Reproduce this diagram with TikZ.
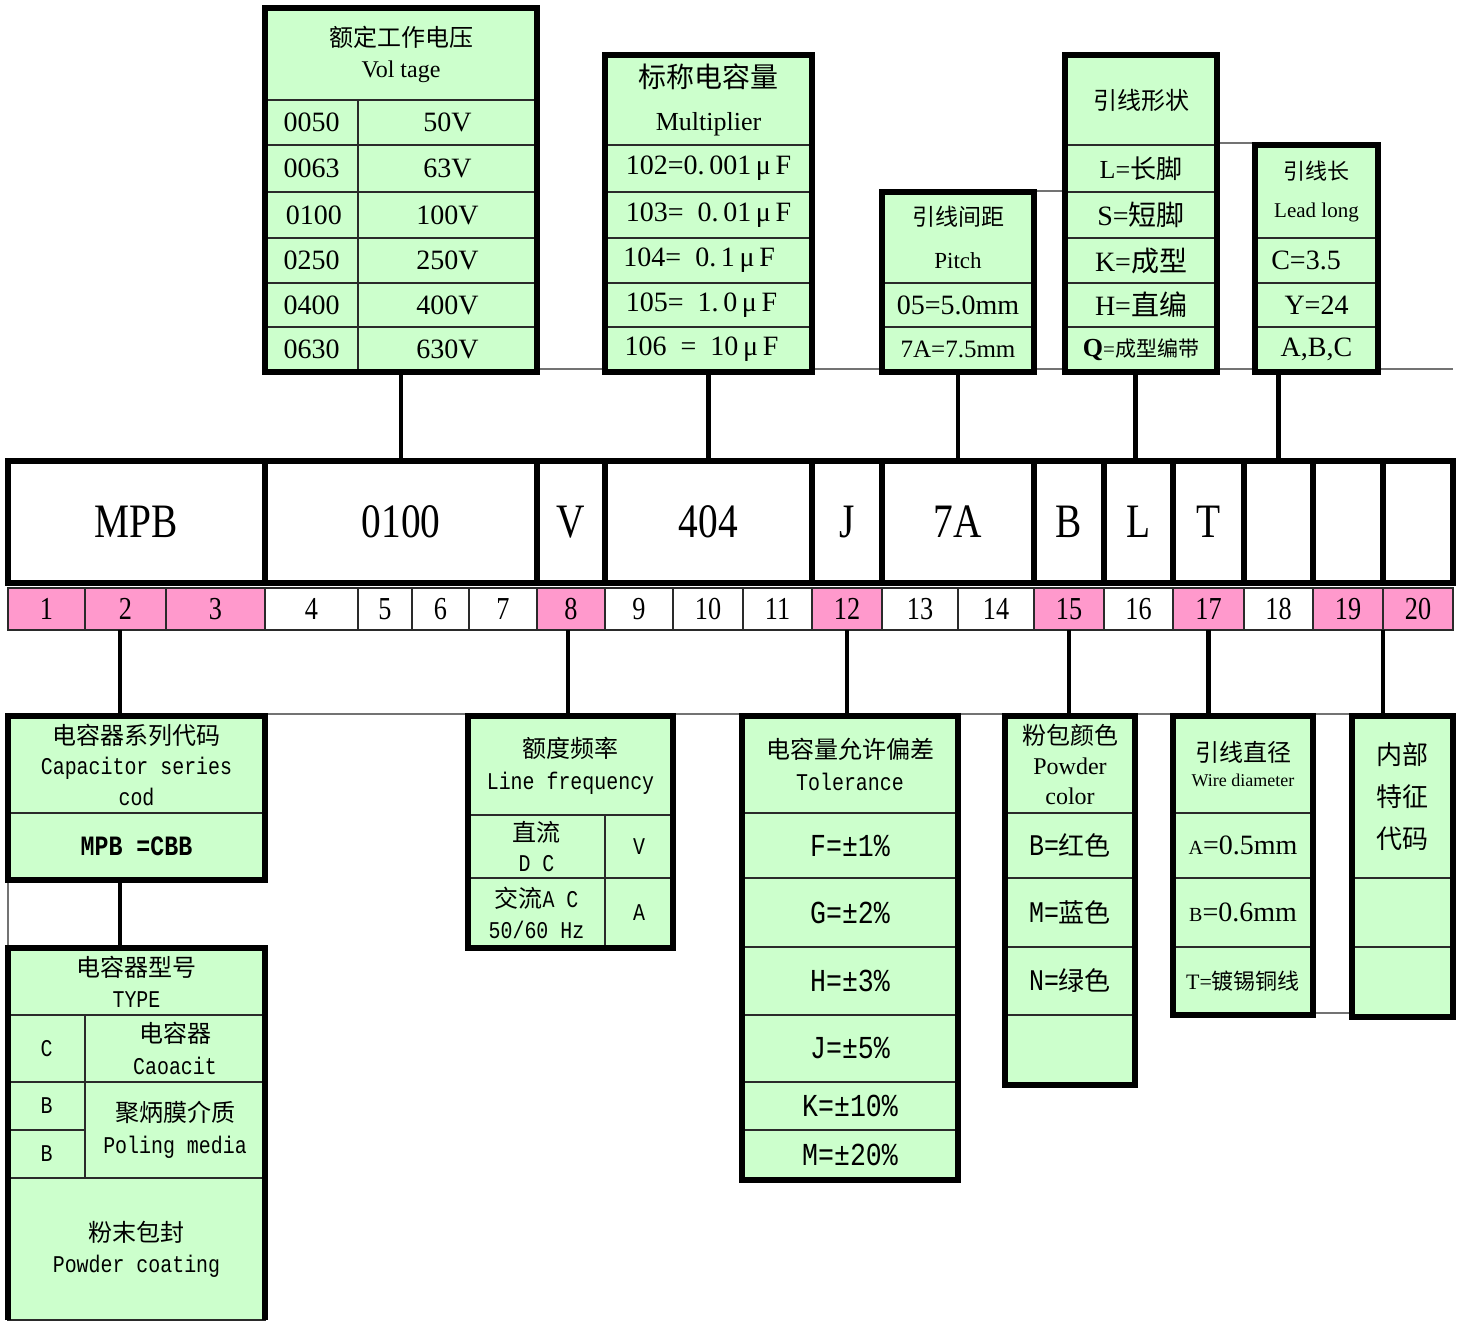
\documentclass[tikz,border=0pt]{standalone}
\usepackage{fontspec}
\setmainfont{Liberation Serif}
\newfontfamily\cjk{Noto Sans CJK SC}
\newfontfamily\mono[FakeStretch=0.83]{Liberation Mono}
\newfontfamily\cond[FakeStretch=0.82]{Liberation Serif}
\definecolor{cg}{HTML}{CCFFCC}
\definecolor{pk}{HTML}{FF99CC}
\definecolor{lc}{HTML}{2A2A2A}
\newcommand\fs[2]{\fontsize{#1}{#2}\selectfont}
\newcommand\cell[7][]{\node[cellb,#1,minimum width={(#5-#3)*0.5pt},minimum height={(#6-#4)*0.5pt}] (#2) at ({(#3+#5)/2},{(#4+#6)/2}) {#7};}
\tikzset{
 cellb/.style={draw=lc,line width=0.9pt,fill=cg,inner sep=0pt,outer sep=0pt,align=center,text=black},
 boxframe/.style={draw=black,line width=2.6pt,fill=none},
 boxline/.style={draw=black,line width=2.6pt},
 codecell/.style={draw=black,line width=2.6pt,fill=white,font=\cond\fs{24}{28}},
 numcell/.style={draw=lc,line width=0.6pt,font=\cond\fs{16}{18}},
 conn/.style={draw=black,line width=2.4pt},
 hair/.style={draw=black!55,line width=0.6pt},
 tx/.style={font=\fs{14}{17}},
 mx/.style={font=\fs{14}{16}},
 tol/.style={font=\mono\fs{16}{18}},
}
\begin{document}
\begin{tikzpicture}[x=0.5pt,y=-0.5pt]
\useasboundingbox (0,0) rectangle (1461,1321);
% decorative hair lines
\coordinate (h1a) at (537,369); \coordinate (h1b) at (1453,369);
\coordinate (h2a) at (1034,191); \coordinate (h2b) at (1065,191);
\coordinate (h3a) at (1217,143); \coordinate (h3b) at (1255,143);
\coordinate (h4a) at (8,714); \coordinate (h4b) at (1453,714);
\coordinate (v1a) at (8,880); \coordinate (v1b) at (8,948);
\coordinate (h5a) at (1313,1013); \coordinate (h5b) at (1352,1013);
\draw[hair] (h1a) -- (h1b);
\draw[hair] (h2a) -- (h2b);
\draw[hair] (h3a) -- (h3b);
\draw[hair] (h4a) -- (h4b);
\draw[hair] (v1a) -- (v1b);
\draw[hair] (h5a) -- (h5b);

% ---------- Voltage ----------
\cell[font=\fs{12}{15.5}]{vh}{265}{8}{537}{100}{\rule{0pt}{8pt}{\cjk 额定工作电压}\\Vol tage}
\cell[tx]{va1}{265}{100}{358}{145}{0050} \cell[tx]{vb1}{358}{100}{537}{145}{50V}
\cell[tx]{va2}{265}{145}{358}{192}{0063} \cell[tx]{vb2}{358}{145}{537}{192}{63V}
\cell[tx]{va3}{265}{192}{358}{238}{\,0100} \cell[tx]{vb3}{358}{192}{537}{238}{100V}
\cell[tx]{va4}{265}{238}{358}{283}{0250} \cell[tx]{vb4}{358}{238}{537}{283}{250V}
\cell[tx]{va5}{265}{283}{358}{327}{0400} \cell[tx]{vb5}{358}{283}{537}{327}{400V}
\cell[tx]{va6}{265}{327}{358}{372}{0630} \cell[tx]{vb6}{358}{327}{537}{372}{630V}
\cell[boxframe]{volt}{265}{8}{537}{372}{}

% ---------- Multiplier ----------
\cell[font=\fs{14}{21.5}]{mh}{605}{55}{812}{145}{{\cjk 标称电容量}\\{\fs{13}{21.5}Multiplier}}
\cell[mx]{m1}{605}{145}{812}{192}{102=0.\,001\,μ\,F}
\cell[mx]{m2}{605}{192}{812}{238}{103=\ \ 0.\,01\,μ\,F}
\cell[mx]{m3}{605}{238}{812}{283}{104=\ \ 0.\,1\,μ\,F\ \ \,}
\cell[mx]{m4}{605}{283}{812}{327}{105=\ \ 1.\,0\,μ\,F\ \ }
\cell[mx]{m5}{605}{327}{812}{372}{106\ \ =\ \ 10\,μ\,F\ \ }
\cell[boxframe]{mult}{605}{55}{812}{372}{}

% ---------- Pitch ----------
\cell[font=\fs{11.5}{21.5}]{ph}{882}{192}{1034}{283}{{\cjk 引线间距}\\Pitch}
\cell[tx]{p1}{882}{283}{1034}{327}{05=5.0mm}
\cell[font=\fs{12.5}{15}]{p2}{882}{327}{1034}{372}{7A=7.5mm}
\cell[boxframe]{pitch}{882}{192}{1034}{372}{}

% ---------- Lead shape ----------
\cell[font=\cjk\fs{12}{15}]{sh}{1065}{55}{1217}{145}{引线形状}
\cell[font=\fs{13}{15}]{s1}{1065}{145}{1217}{192}{L={\cjk 长脚}}
\cell[tx]{s2}{1065}{192}{1217}{238}{S={\cjk 短脚}}
\cell[tx]{s3}{1065}{238}{1217}{283}{K={\cjk 成型}}
\cell[tx]{s4}{1065}{283}{1217}{327}{H={\cjk 直编}}
\cell[font=\fs{13}{15}]{s5}{1065}{327}{1217}{372}{\textbf{Q}{\fs{10.5}{13}={\cjk 成型编带}}}
\cell[boxframe]{shape}{1065}{55}{1217}{372}{}

% ---------- Lead long ----------
\cell[font=\fs{11}{19}]{lh}{1255}{145}{1378}{238}{{\cjk 引线长}\\{\fs{10.5}{19}Lead long}}
\cell[tx]{l1}{1255}{238}{1378}{283}{C=3.5\ \ \ }
\cell[tx]{l2}{1255}{283}{1378}{327}{Y=24}
\cell[tx]{l3}{1255}{327}{1378}{372}{A,B,C}
\cell[boxframe]{leadlong}{1255}{145}{1378}{372}{}

% ---------- Code row ----------
\cell[codecell]{c1}{8}{461}{265}{583}{MPB}
\cell[codecell]{c2}{265}{461}{537}{583}{0100}
\cell[codecell]{c3}{537}{461}{605}{583}{V}
\cell[codecell]{c4}{605}{461}{812}{583}{404}
\cell[codecell]{c5}{812}{461}{882}{583}{J}
\cell[codecell]{c6}{882}{461}{1034}{583}{7A}
\cell[codecell]{c7}{1034}{461}{1104}{583}{B}
\cell[codecell]{c8}{1104}{461}{1173}{583}{L}
\cell[codecell]{c9}{1173}{461}{1244}{583}{T}
\cell[codecell]{c10}{1244}{461}{1313}{583}{}
\cell[codecell]{c11}{1313}{461}{1383}{583}{}
\cell[codecell]{c12}{1383}{461}{1453}{583}{}

% ---------- Number row ----------
\foreach \i/\a/\b/\c in {1/8/85/pk,2/85/166/pk,3/166/265/pk,4/265/358/white,5/358/412/white,
  6/412/469/white,7/469/537/white,8/537/605/pk,9/605/673/white,10/673/743/white,
  11/743/812/white,12/812/882/pk,13/882/958/white,14/958/1034/white,15/1034/1104/pk,
  16/1104/1173/white,17/1173/1244/pk,18/1244/1313/white,19/1313/1383/pk,20/1383/1453/pk}
 {\cell[numcell,fill=\c]{n\i}{\a}{588}{\b}{630}{\i}}

% ---------- Series code ----------
\cell[font=\fs{12}{15.25}]{seh}{8}{716}{265}{813}{{\cjk 电容器系列代码}\\{\mono Capacitor series}\\{\mono cod}}
\cell[font=\mono\bfseries\fs{14}{16}]{se1}{8}{813}{265}{880}{MPB =CBB}
\cell[boxframe]{series}{8}{716}{265}{880}{}

% ---------- Type ----------
\cell[font=\fs{12}{15.5}]{tyh}{8}{948}{265}{1015}{{\cjk 电容器型号}\\{\mono TYPE}}
\cell[font=\mono\fs{12}{15}]{ty1}{8}{1015}{85}{1082}{C}
\cell[font=\fs{12}{16}]{ty2}{85}{1015}{265}{1082}{{\cjk 电容器}\\{\mono Caoacit}}
\cell[font=\mono\fs{12}{15}]{ty3}{8}{1082}{85}{1130}{B}
\cell[font=\mono\fs{12}{15}]{ty4}{8}{1130}{85}{1178}{B}
\cell[font=\fs{12}{16}]{ty5}{85}{1082}{265}{1178}{{\cjk 聚炳膜介质}\\{\mono Poling media}}
\cell[font=\fs{12}{15.5}]{ty6}{8}{1178}{265}{1320}{{\cjk 粉末包封}\\{\mono Powder coating}}
\cell[boxframe,draw=none]{type}{8}{948}{265}{1320}{}
\draw[boxline] (type.south west) -- (type.north west) -- (type.north east) -- (type.south east);

% ---------- Line frequency ----------
\cell[font=\fs{12}{16}]{fh}{468}{716}{673}{815}{{\cjk 额度频率}\\{\mono Line frequency}}
\cell[font=\fs{12}{15}]{f1}{468}{815}{605}{878}{{\cjk 直流}\\{\mono D C}}
\cell[font=\mono\fs{12}{15}]{f2}{605}{815}{673}{878}{V}
\cell[font=\fs{12}{15.5}]{f3}{468}{878}{605}{948}{{\cjk 交流}{\mono A C}\\{\mono 50/60 Hz}}
\cell[font=\mono\fs{12}{15}]{f4}{605}{878}{673}{948}{A}
\cell[boxframe]{freq}{468}{716}{673}{948}{}

% ---------- Tolerance ----------
\cell[font=\fs{12}{16}]{toh}{742}{716}{958}{813}{{\cjk 电容量允许偏差}\\{\mono Tolerance}}
\cell[tol]{to1}{742}{813}{958}{878}{F=±1\%}
\cell[tol]{to2}{742}{878}{958}{947}{G=±2\%}
\cell[tol]{to3}{742}{947}{958}{1015}{H=±3\%}
\cell[tol]{to4}{742}{1015}{958}{1082}{J=±5\%}
\cell[tol]{to5}{742}{1082}{958}{1130}{K=±10\%}
\cell[tol]{to6}{742}{1130}{958}{1180}{M=±20\%}
\cell[boxframe]{tol}{742}{716}{958}{1180}{}

% ---------- Powder colour ----------
\cell[font=\fs{12}{15}]{poh}{1005}{716}{1135}{813}{{\cjk 粉包颜色}\\Powder\\color}
\cell[font=\fs{13}{15}]{po1}{1005}{813}{1135}{878}{{\mono\fs{15}{15}B=}{\cjk 红色}}
\cell[font=\fs{13}{15}]{po2}{1005}{878}{1135}{947}{{\mono\fs{15}{15}M=}{\cjk 蓝色}}
\cell[font=\fs{13}{15}]{po3}{1005}{947}{1135}{1015}{{\mono\fs{15}{15}N=}{\cjk 绿色}}
\cell{po4}{1005}{1015}{1135}{1085}{}
\cell[boxframe]{powder}{1005}{716}{1135}{1085}{}

% ---------- Wire diameter ----------
\cell[font=\fs{12}{12.5}]{wh}{1173}{716}{1313}{813}{{\cjk 引线直径}\\{\fs{9}{12.5}Wire diameter}}
\cell[tx]{w1}{1173}{813}{1313}{878}{{\fs{10}{12}A}=0.5mm}
\cell[tx]{w2}{1173}{878}{1313}{947}{{\fs{10}{12}B}=0.6mm}
\cell[font=\fs{11}{13}]{w3}{1173}{947}{1313}{1015}{T={\cjk 镀锡铜线}}
\cell[boxframe]{wire}{1173}{716}{1313}{1015}{}

% ---------- Internal code ----------
\cell[font=\cjk\fs{13}{21}]{ih}{1352}{716}{1453}{878}{内部\\特征\\代码}
\cell{i1}{1352}{878}{1453}{947}{}
\cell{i2}{1352}{947}{1453}{1017}{}
\cell[boxframe]{internal}{1352}{716}{1453}{1017}{}

% ---------- Connectors ----------
\draw[conn] (volt.south -| c2.north) -- (c2.north);
\draw[conn] (mult.south -| c4.north) -- (c4.north);
\draw[conn] (pitch.south -| c6.north) -- (c6.north);
\draw[conn] ([xshift=-1.5pt]shape.south -| c8.north) -- ([xshift=-1.5pt]c8.north);
\draw[conn] (leadlong.south -| c10.north) -- (c10.north);
\draw[conn] ([xshift=-2.75pt]n2.south) -- ([xshift=-2.75pt]n2.south |- series.north);
\draw[conn] ([xshift=-2.75pt]series.south -| n2.south) -- ([xshift=-2.75pt]type.north -| n2.south);
\draw[conn] ([xshift=-1.5pt]n8.south) -- ([xshift=-1.5pt]n8.south |- freq.north);
\draw[conn] (n12.south) -- (n12.south |- tol.north);
\draw[conn] (n15.south) -- (n15.south |- powder.north);
\draw[conn] (n17.south) -- (n17.south |- wire.north);
\draw[conn] (n20.south west) -- (n20.south west |- internal.north);
\end{tikzpicture}
\end{document}
